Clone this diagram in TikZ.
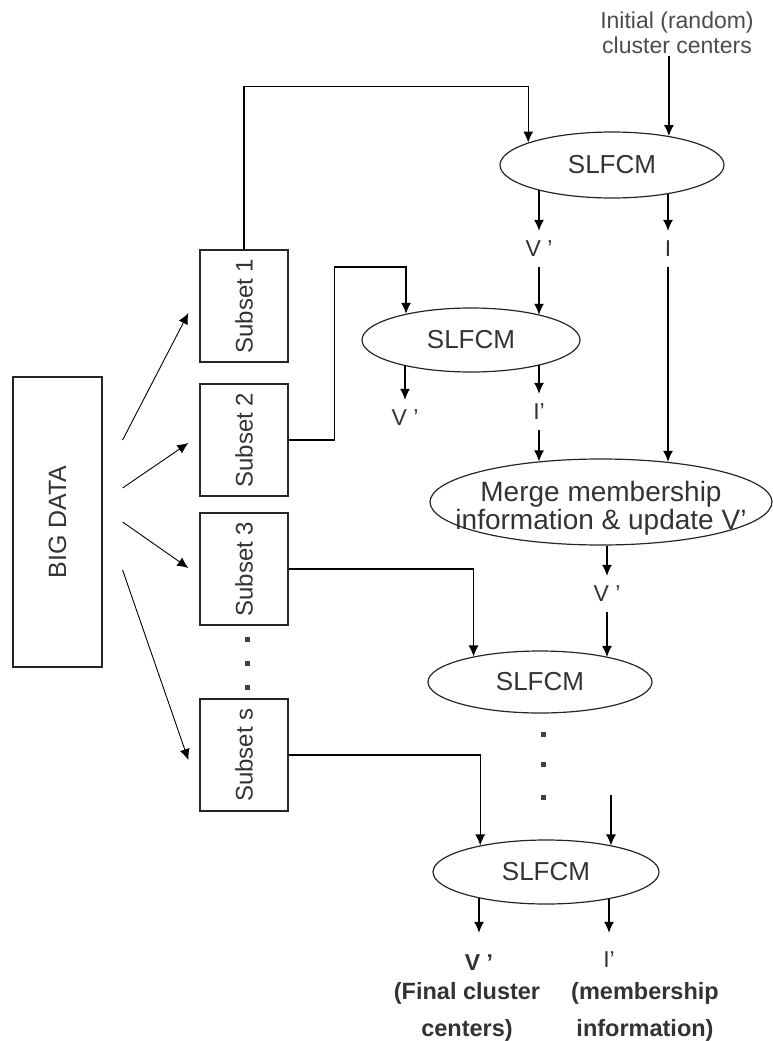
\documentclass[tikz,border=0pt]{standalone}
\usepackage{graphicx}
\usepackage{fontspec}
\setmainfont{Liberation Sans}
\usetikzlibrary{shapes,arrows.meta}

\begin{document}
\begin{tikzpicture}[x=1pt,y=-1pt,
  every node/.style={text=black!80},
  blk/.style={draw=black!85,line width=1.2pt,inner sep=0pt},
  sub/.style={blk,minimum width=88pt,minimum height=112pt,font=\fontsize{24}{24}\selectfont},
  alg/.style={ellipse,draw=black!85,line width=1.2pt,inner sep=0pt,font=\fontsize{26}{26}\selectfont},
  lab/.style={inner sep=0pt,minimum height=36pt,font=\fontsize{23}{23}\selectfont},
  arr/.style={line width=1.2pt,-{Latex[length=11pt,width=10pt]}}]
\useasboundingbox (0,0) rectangle (773,1041);

% data and its subsets
\node[blk,minimum width=89pt,minimum height=290pt,font=\fontsize{25}{25}\selectfont] (big) at (57.5,522) {\rotatebox{90}{BIG DATA}};
\node[sub] (s1) at (244,306) {\rotatebox{90}{Subset 1}};
\node[sub] (s2) at (244,440) {\rotatebox{90}{Subset 2}};
\node[sub] (s3) at (244,569) {\rotatebox{90}{Subset 3}};
\node[sub] (ss) at (244,755) {\rotatebox{90}{Subset s}};
\foreach \y in {637,661,685} {
    \fill[black!75] (245,\y) rectangle ++(5,5);
}
\foreach \s/\a/\b in {s1/82/-7, s2/34/-3, s3/0/1, ss/-48/-5} {
    \draw[arr,line width=0.9pt] ([xshift=20pt,yshift=\a pt]big.east) -- ([xshift=-11pt,yshift=\b pt]\s.west);
}

% SLFCM chain
\node[font=\fontsize{23}{25}\selectfont,align=center,inner sep=2pt,text=black!70] (init) at (677,33) {Initial (random)\\cluster centers};
\node[alg,minimum width=224pt,minimum height=66pt] (e1) at (612,165) {SLFCM};
\node[alg,minimum width=218pt,minimum height=64pt] (e2) at (471,340) {SLFCM};
\node[alg,minimum width=342pt,minimum height=86pt,font=\fontsize{28}{27}\selectfont] (em) at (601,502) {\makebox[200pt]{\raisebox{-13.5pt}[0pt][0pt]{\begin{tabular}{@{}c@{}}Merge membership\\information \& update V'\end{tabular}}}};
\node[alg,minimum width=224pt,minimum height=62pt] (e3) at (540,682) {SLFCM};
\node[alg,minimum width=226pt,minimum height=64pt] (e4) at (546,872) {SLFCM};

\node[lab] (va) at (539,249) {V '};
\node[lab] (ia) at (668,249) {I};
\node[lab] (vb) at (405,418) {V '};
\node[lab] (ib) at (539,412) {I'};
\node[lab] (vc) at (607,594) {V '};
\foreach \y in {732,762,795} {
    \fill[black!75] (541,\y) rectangle ++(5,5);
}
\coordinate (cont) at (611,795);

% outputs
\node[lab,minimum height=60pt,font=\bfseries\fontsize{23}{23}\selectfont] (vf) at (479,963) {V '};
\node[lab,minimum height=54pt] (If) at (609,960) {I'};
\node[font=\bfseries\fontsize{23.5}{37}\selectfont,align=center,inner sep=0pt] (vdesc) at (467,1012) {(Final cluster\\centers)};
\node[font=\bfseries\fontsize{23.5}{37}\selectfont,align=center,inner sep=0pt] (idesc) at (645,1012) {(membership\\information)};

\draw[arr] (s1.north) -- ++(0,-163) -| (e1.165);
\draw[arr] (init.south -| e1.27) -- (e1.27);
\draw[arr] (va.north |- e1.199) -- (va.north);
\draw[arr] (va.south) -- (va.south |- e2.20);
\draw[arr] (ia.north |- e1.333) -- (ia.north);
\draw[arr] (ia.south) -- (ia.south |- em.31);
\draw[arr] (s2.east) -| ++(46,-173) -| (e2.158);
\draw[arr] (vb.north |- e2.201) -- (vb.north);
\draw[arr] (ib.north |- e2.340) -- (ib.north);
\draw[arr] (ib.south) -- (ib.south |- em.147);
\draw[arr] (vc.north |- em.278) -- (vc.north);
\draw[arr] (vc.south) -- (vc.south |- e3.20);
\draw[arr] (s3.east) -| (e3.159);
\draw[arr] (ss.east) -| (e4.158);
\draw[arr] (cont) -- (cont |- e4.22);
\draw[arr] (vf.north |- e4.201) -- (vf.north);
\draw[arr] (If.north |- e4.337) -- (If.north);
\end{tikzpicture}
\end{document}
